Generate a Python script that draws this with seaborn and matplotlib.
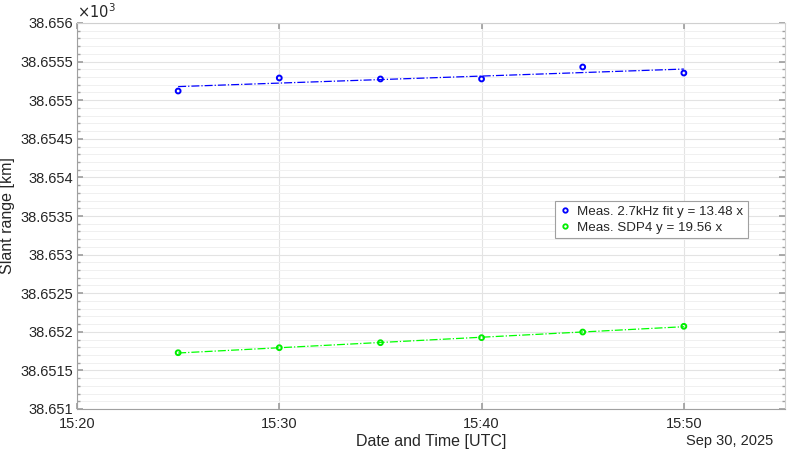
import numpy as np
import pandas as pd
import matplotlib
matplotlib.use("Agg")
import matplotlib.pyplot as plt
import matplotlib.dates as mdates
from matplotlib.ticker import FuncFormatter, MultipleLocator
from matplotlib.lines import Line2D
import seaborn as sns

# ---- data ----
times = ["2025-09-30 15:25", "2025-09-30 15:30", "2025-09-30 15:35",
         "2025-09-30 15:40", "2025-09-30 15:45", "2025-09-30 15:50"]
meas_fit_km = [38655.119, 38655.288, 38655.275, 38655.275, 38655.430, 38655.352]
sdp4_km = [38651.729, 38651.794, 38651.859, 38651.924, 38651.997, 38652.071]
legend_labels = ["Meas. 2.7kHz fit y = 13.48 x", "Meas. SDP4 y = 19.56 x"]
x_label = "Date and Time [UTC]"
y_label = "Slant range [km]"
date_label = "Sep 30, 2025"

t = pd.to_datetime(times)
minutes = (t - t[0]).total_seconds() / 60.0
p_meas = np.polyfit(minutes, meas_fit_km, 1)
p_sdp4 = np.polyfit(minutes, sdp4_km, 1)
df = pd.DataFrame({"time": t, "meas": meas_fit_km, "sdp4": sdp4_km,
                   "meas_fit": np.polyval(p_meas, minutes),
                   "sdp4_fit": np.polyval(p_sdp4, minutes)})

sns.set_theme(style="white")
plt.rcParams["font.family"] = ["Liberation Sans", "DejaVu Sans"]
txt = "#262626"
axc = "#a0a0a0"
axc_light = "#d0d0d0"

fig = plt.figure(figsize=(7.9, 4.55), dpi=100)
ax = fig.add_axes([77/790, 1-409/455, (785-77)/790, (409-23)/455])

sns.lineplot(data=df, x="time", y="meas_fit", ax=ax, color="blue",
             linestyle="-.", linewidth=0.9, legend=False)
sns.lineplot(data=df, x="time", y="sdp4_fit", ax=ax, color="#00ff00",
             linestyle="-.", linewidth=0.9, legend=False)
sns.scatterplot(data=df, x="time", y="meas", ax=ax, marker="o", s=12,
                facecolor="none", edgecolor="blue", linewidth=1.4, legend=False, zorder=3)
sns.scatterplot(data=df, x="time", y="sdp4", ax=ax, marker="o", s=12,
                facecolor="none", edgecolor="#00ee00", linewidth=1.4, legend=False, zorder=3)

ax.set_xlim(pd.Timestamp("2025-09-30 15:20"), pd.Timestamp("2025-09-30 15:55"))
ax.set_ylim(38651.0, 38656.0)
ax.xaxis.set_major_locator(mdates.MinuteLocator(byminute=[20, 30, 40, 50]))
ax.xaxis.set_major_formatter(mdates.DateFormatter("%H:%M"))
ax.yaxis.set_major_locator(MultipleLocator(0.5))
ax.yaxis.set_minor_locator(MultipleLocator(0.1))
ax.yaxis.set_major_formatter(FuncFormatter(lambda v, p: f"{v/1000:.7g}"))

ax.grid(True, which="major", color="#e3e3e3", linewidth=0.8)
ax.grid(True, which="minor", axis="y", color="#f0f0f0", linewidth=0.7)
ax.set_axisbelow(True)
for name, s in ax.spines.items():
    s.set_color(axc if name in ("left", "bottom") else axc_light)
    s.set_linewidth(0.8)
ax.tick_params(axis="both", which="both", colors=axc, labelcolor=txt, labelsize=10.5,
               direction="in")
ax.tick_params(axis="both", which="major", length=4)
ax.tick_params(axis="y", which="both", left=True, right=True, pad=3)
ax.tick_params(axis="y", which="minor", length=2.5)
ax.tick_params(axis="x", which="major", bottom=True, top=True, pad=6)

ax.set_xlabel(x_label, fontsize=11.5, color=txt)
ax.xaxis.set_label_coords(0.5, -0.065)
ax.xaxis.label.set_va("top")
ax.set_ylabel(y_label, fontsize=11.5, color=txt)
ax.yaxis.set_label_coords(-0.087, 0.5)
ax.text(0.0, 1.005, r"$\times10^3$", transform=ax.transAxes, fontsize=10.5,
        color=txt, ha="left", va="bottom")
ax.text(0.983, -0.066, date_label, transform=ax.transAxes, fontsize=10.5,
        color=txt, ha="right", va="top")

handles = [Line2D([], [], linestyle="none", marker="o", markersize=3.2,
                  markerfacecolor="none", markeredgecolor="blue", markeredgewidth=1.3),
           Line2D([], [], linestyle="none", marker="o", markersize=3.2,
                  markerfacecolor="none", markeredgecolor="#00ee00", markeredgewidth=1.3)]
leg = ax.legend(handles, legend_labels, loc="upper left", bbox_to_anchor=(0.675, 0.539),
                fontsize=9.6, frameon=True, fancybox=False, framealpha=1,
                edgecolor=axc, handlelength=0.8, handletextpad=0.5,
                borderpad=0.35, labelspacing=0.25, borderaxespad=0)
for tx in leg.get_texts():
    tx.set_color(txt)
leg.get_frame().set_linewidth(0.8)

fig.savefig("out.png", dpi=100)
